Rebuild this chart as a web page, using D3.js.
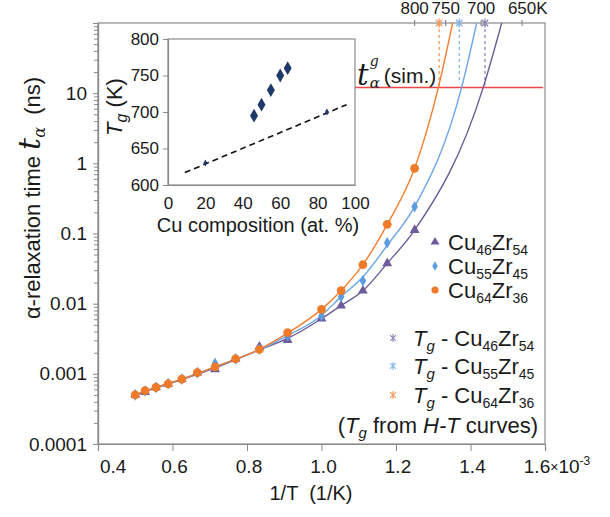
<!DOCTYPE html>
<html><head><meta charset="utf-8">
<script src="https://cdn.jsdelivr.net/npm/d3@7"></script>
<style>
body{margin:0;background:#fff;}
svg{display:block;font-family:"Liberation Sans",Arial,sans-serif;}
</style></head><body>
<svg id="chart" width="610" height="517"></svg>
<script>
// ---------------- data ----------------
const temperatures = [2000,1900,1800,1700,1600,1500,1400,1300,1200,1100,1000,950,900,850,800];
const tauCu46Zr54 = [0.0005,0.00055,0.00064,0.00072,0.00084,0.00104,0.00116,0.00163,0.00244,0.00303,0.0061,0.00935,0.0153,0.0376,0.112];
const tauCu55Zr45 = [0.0005,0.00057,0.00064,0.00072,0.00084,0.00104,0.00141,0.00163,0.00226,0.00346,0.00667,0.01256,0.0212,0.074,0.241];
const tauCu64Zr36 = [0.0005,0.000575,0.00064,0.00072,0.00084,0.00104,0.00126,0.00163,0.00222,0.00386,0.0083,0.0153,0.0359,0.135,0.85];
// fit curves: [1/T (1e-3 1/K), tau (ns)]
const fitCu46Zr54 = [[0.5,0.0005],[0.5556,0.00063],[0.625,0.00083],[0.7143,0.00122],[0.8333,0.0022],[0.9091,0.0032],[1.0,0.0061],[1.0526,0.0094],[1.1111,0.0153],[1.1765,0.0376],[1.25,0.112],[1.434,12],[1.4838,100]];
const fitCu55Zr45 = [[0.5,0.0005],[0.5556,0.00064],[0.625,0.00084],[0.7143,0.00126],[0.8333,0.0022],[0.9091,0.0035],[1.0,0.0068],[1.0526,0.0126],[1.1111,0.024],[1.1765,0.068],[1.25,0.241],[1.376,12],[1.4166,100]];
const fitCu64Zr36 = [[0.5,0.0005],[0.5556,0.00064],[0.625,0.00084],[0.7143,0.00126],[0.8333,0.00224],[0.9091,0.0038],[1.0,0.0083],[1.0526,0.0153],[1.1111,0.036],[1.1765,0.135],[1.25,0.85],[1.3136,12],[1.352,100]];
const tgHT = [695,730,760];           // Tg from H-T curves (K), Cu46, Cu55, Cu64
const tgDropTau = [13,15,12];         // where the dotted Tg guides end (ns)
const tauSim = 12;                    // t_alpha^g (sim.) level (ns)
const simLineInvT = [1.0855,1.595];
const topTempTicks = [800,750,700,650];
const topTempLabels = ["800","750","700","650"];
const yTickValues = [1e-4,1e-3,1e-2,1e-1,1,10];
const yTickLabels = ["0.0001","0.001","0.01","0.1","1","10"];
const xTickValues = [0.4,0.6,0.8,1.0,1.2,1.4,1.6];
const xTickLabels = ["0.4","0.6","0.8","1.0","1.2","1.4","1.6"];
// inset
const insetComposition = [46,50,55,60,64];
const insetTg = [695,710,730,750,760];
const insetOtherComposition = [20,85];
const insetOtherTg = [630,700];
const insetTrendComposition = [9,95.5];
const insetTrendTg = [617,710];
const insetXTicks = [0,20,40,60,80,100];
const insetYTicks = [600,650,700,750,800];

// ---------------- setup ----------------
const svg = d3.select("#chart");
const L = 98, R = 545, T = 23, B = 444;
const x = d3.scaleLinear().domain([0.4,1.6]).range([L,R]);
const y = d3.scaleLog().domain([1e-4,100]).range([B,T]);
const axisCol = "#8a8a8a";
const txt = "#1a1a1a";
const colors = {p:"#6e5b9c", b:"#5b9be0", o:"#ee7a2a"};
const lineCols = {p:"#6b5b98", b:"#6aa6ea", o:"#f07f2f"};
const tgCols = ["#9084b6","#86b5ec","#f29a5c"];

svg.append("rect").attr("width",610).attr("height",517).attr("fill","#fff");

svg.append("defs").append("clipPath").attr("id","plotclip")
  .append("rect").attr("x",L).attr("y",T).attr("width",R-L).attr("height",B-T);

// frame
svg.append("rect").attr("x",L).attr("y",T).attr("width",R-L).attr("height",B-T)
  .attr("fill","none").attr("stroke",axisCol).attr("stroke-width",1.2);

// left axis
const minorVals = [];
for (let e=-4; e<2; e++) for (let m=2; m<10; m++) minorVals.push(m*Math.pow(10,e));
const gMinor = svg.append("g").attr("transform",`translate(${L},0)`)
  .call(d3.axisLeft(y).tickValues(minorVals).tickSize(4).tickFormat(""));
const gLeft = svg.append("g").attr("transform",`translate(${L},0)`)
  .call(d3.axisLeft(y).tickValues(yTickValues.concat([100])).tickSize(5).tickPadding(6)
    .tickFormat((d,i)=> i<yTickLabels.length ? yTickLabels[i] : ""));
[gMinor,gLeft].forEach(g=>{
  g.select(".domain").attr("stroke",axisCol).attr("stroke-width",1.2);
  g.selectAll(".tick line").attr("stroke",axisCol);
  g.selectAll("text").attr("font-size",19).attr("fill",txt).attr("font-family","Liberation Sans, Arial, sans-serif");
});

// bottom axis
const gBot = svg.append("g").attr("transform",`translate(0,${B})`)
  .call(d3.axisBottom(x).tickValues(xTickValues).tickSize(7).tickFormat(""));
gBot.select(".domain").attr("stroke",axisCol).attr("stroke-width",1.2);
gBot.selectAll(".tick line").attr("stroke",axisCol);
xTickValues.forEach((v,i)=>{
  const t = svg.append("text").attr("y",B+29).attr("font-size",19).attr("fill",txt);
  if (i === 0) {
    t.attr("x",x(v)+2).attr("text-anchor","start").text(xTickLabels[i]);
  } else if (i < xTickValues.length-1) {
    t.attr("x",x(v)+2).attr("text-anchor","middle").text(xTickLabels[i]);
  } else {
    t.append("tspan").text(xTickLabels[i]);
    const w = t.node().getComputedTextLength();
    t.attr("x",x(v)-w/2-8);
    t.append("tspan").attr("font-size",14).attr("dy",-1).text("×");
    t.append("tspan").attr("font-size",19).attr("dy",1).text("10");
    t.append("tspan").attr("font-size",12).attr("dy",-8).text("-3");
  }
});

// top temperature axis
topTempTicks.forEach((tk,i)=>{
  const xx = x(1000/tk);
  svg.append("line").attr("x1",xx).attr("x2",xx).attr("y1",T-3).attr("y2",T+3)
    .attr("stroke",axisCol).attr("stroke-width",1.2);
  const t = svg.append("text").attr("x",xx).attr("y",T-9).attr("text-anchor","middle")
    .attr("font-size",17).attr("fill",txt).text(topTempLabels[i]);
  if (i === topTempTicks.length-1) {
    const w = t.node().getComputedTextLength();
    svg.append("text").attr("x",xx+w/2).attr("y",T-9).attr("font-size",17).attr("fill",txt).text("K");
  }
});

// axis titles
const yl = svg.append("text").attr("transform","translate(40,198) rotate(-90)")
  .attr("text-anchor","middle").attr("font-size",22).attr("fill",txt);
yl.append("tspan").text("α-relaxation time ");
yl.append("tspan").attr("font-family","DejaVu Serif").attr("font-style","italic").attr("font-size",30).text("t");
yl.append("tspan").attr("font-family","DejaVu Serif").attr("font-style","italic").attr("font-size",16).attr("dy",5).text("α");
yl.append("tspan").attr("dy",-5).attr("xml:space","preserve").text("  (ns)");

svg.append("text").attr("x",311).attr("y",500).attr("text-anchor","middle")
  .attr("font-size",20).attr("fill",txt).attr("xml:space","preserve").text("1/T  (1/K)");

// plot content
const plot = svg.append("g").attr("clip-path","url(#plotclip)");

plot.append("line").attr("x1",x(simLineInvT[0])).attr("x2",x(simLineInvT[1]))
  .attr("y1",y(tauSim)).attr("y2",y(tauSim)).attr("stroke","#f2454a").attr("stroke-width",1.5);

tgHT.forEach((tg,i)=>{
  plot.append("line").attr("x1",x(1000/tg)).attr("x2",x(1000/tg))
    .attr("y1",y(100)).attr("y2",y(tgDropTau[i]))
    .attr("stroke",tgCols[i]).attr("stroke-width",1.3).attr("stroke-dasharray","3,3");
});

const line = d3.line().x(d=>x(d[0])).y(d=>y(d[1])).curve(d3.curveMonotoneX);
[[fitCu46Zr54,"p"],[fitCu55Zr45,"b"],[fitCu64Zr36,"o"]].forEach(([f,k])=>{
  plot.append("path").datum(f).attr("d",line).attr("fill","none")
    .attr("stroke",lineCols[k]).attr("stroke-width",1.4);
});

const invT = temperatures.map(t=>1000/t);
const series = [
  {v:tauCu46Zr54, k:"p", sym:d3.symbolTriangle, size:42},
  {v:tauCu55Zr45, k:"b", sym:d3.symbolDiamond, size:38},
  {v:tauCu64Zr36, k:"o", sym:d3.symbolCircle, size:60},
];
series.forEach(s=>{
  plot.append("g").selectAll("path").data(s.v).join("path")
    .attr("transform",(d,i)=>`translate(${x(invT[i])},${y(d)})`)
    .attr("d",d3.symbol().type(s.sym).size(s.size)).attr("fill",colors[s.k]);
});

const asterisk = {draw(ctx,size){const r=Math.sqrt(size)/2; const d=r*0.72;
  ctx.moveTo(0,-r);ctx.lineTo(0,r);ctx.moveTo(-d,-d);ctx.lineTo(d,d);ctx.moveTo(-d,d);ctx.lineTo(d,-d);}};

tgHT.forEach((tg,i)=>{
  svg.append("path").attr("transform",`translate(${x(1000/tg)},${T})`)
    .attr("d",d3.symbol().type(asterisk).size(80)).attr("fill","none")
    .attr("stroke",tgCols[i]).attr("stroke-width",1.3);
});

// t_alpha^g (sim.) label as one text element
{
  const t = svg.append("text").attr("x",357).attr("y",85).attr("font-family","DejaVu Serif")
    .attr("font-style","italic").attr("fill",txt);
  t.append("tspan").attr("font-size",29).text("t");
  t.append("tspan").attr("font-size",14).attr("dx",1).attr("dy",-19).text("g");
  t.append("tspan").attr("font-size",15).attr("dx",-9).attr("dy",22).text("α");
  t.append("tspan").attr("font-family","Liberation Sans, Arial, sans-serif").attr("font-style","normal")
    .attr("font-size",21).attr("dx",4).attr("dy",-5).text("(sim.)");
}

// legend
function compound(t, a, an, b, bn){
  t.append("tspan").text(a);
  t.append("tspan").attr("font-size",14).attr("dy",5).text(an);
  t.append("tspan").attr("dy",-5).text(b);
  t.append("tspan").attr("font-size",14).attr("dy",5).text(bn);
}
const legendSeries = [
  {k:"p", sym:d3.symbolTriangle, size:34, cy:242, f:["Cu","46","Zr","54"]},
  {k:"b", sym:d3.symbolDiamond, size:26, cy:266, f:["Cu","55","Zr","45"]},
  {k:"o", sym:d3.symbolCircle, size:40, cy:290, f:["Cu","64","Zr","36"]},
];
legendSeries.forEach(s=>{
  svg.append("path").attr("transform",`translate(435,${s.cy})`)
    .attr("d",d3.symbol().type(s.sym).size(s.size)).attr("fill",colors[s.k]);
  const t = svg.append("text").attr("x",448).attr("y",s.cy+8).attr("font-size",22).attr("fill",txt);
  compound(t, ...s.f);
});
const legendTg = [
  {cy:338, f:["Cu","46","Zr","54"]},
  {cy:366, f:["Cu","55","Zr","45"]},
  {cy:395, f:["Cu","64","Zr","36"]},
];
legendTg.forEach((s,i)=>{
  svg.append("path").attr("transform",`translate(393,${s.cy})`)
    .attr("d",d3.symbol().type(asterisk).size(64)).attr("fill","none")
    .attr("stroke",tgCols[i]).attr("stroke-width",1.1);
  const t = svg.append("text").attr("x",413).attr("y",s.cy+8).attr("font-size",22).attr("fill",txt);
  t.append("tspan").attr("font-style","italic").text("T");
  t.append("tspan").attr("font-style","italic").attr("font-size",15).attr("dy",5).text("g");
  t.append("tspan").attr("dy",-5).text(" - ");
  compound(t, ...s.f);
});
{
  const t = svg.append("text").attr("x",538).attr("y",433).attr("text-anchor","end")
    .attr("font-size",22).attr("fill",txt);
  t.append("tspan").text("(");
  t.append("tspan").attr("font-style","italic").text("T");
  t.append("tspan").attr("font-style","italic").attr("font-size",15).attr("dy",5).text("g");
  t.append("tspan").attr("dy",-5).text(" from ");
  t.append("tspan").attr("font-style","italic").text("H-T");
  t.append("tspan").text(" curves)");
}

// ---------------- inset ----------------
const iL = 168, iR = 355, iT = 39, iB = 185;
const xi = d3.scaleLinear().domain([0,100]).range([iL,iR]);
const yi = d3.scaleLinear().domain([600,800]).range([iB,iT]);
svg.append("rect").attr("x",iL).attr("y",iT).attr("width",iR-iL).attr("height",iB-iT)
  .attr("fill","#fff").attr("stroke",axisCol).attr("stroke-width",1.2);
const giL = svg.append("g").attr("transform",`translate(${iL},0)`)
  .call(d3.axisLeft(yi).tickValues(insetYTicks).tickSize(5).tickPadding(4));
const giB = svg.append("g").attr("transform",`translate(0,${iB})`)
  .call(d3.axisBottom(xi).tickValues(insetXTicks).tickSize(0).tickPadding(12));
[giL,giB].forEach(g=>{
  g.select(".domain").attr("stroke",axisCol).attr("stroke-width",1.2);
  g.selectAll(".tick line").attr("stroke",axisCol);
  g.selectAll("text").attr("font-size",17).attr("fill",txt).attr("font-family","Liberation Sans, Arial, sans-serif");
});
svg.append("line").attr("x1",xi(insetTrendComposition[0])).attr("y1",yi(insetTrendTg[0]))
  .attr("x2",xi(insetTrendComposition[1])).attr("y2",yi(insetTrendTg[1]))
  .attr("stroke","#111").attr("stroke-width",1.6).attr("stroke-dasharray","6,4");
svg.append("g").selectAll("path").data(insetOtherComposition).join("path")
  .attr("transform",(d,i)=>`translate(${xi(d)},${yi(insetOtherTg[i])})`)
  .attr("d",d3.symbol().type(d3.symbolDiamond).size(14)).attr("fill","#1f3a68");
svg.append("g").selectAll("path").data(insetComposition).join("path")
  .attr("transform",(d,i)=>`translate(${xi(d)},${yi(insetTg[i])})`)
  .attr("d",d3.symbol().type(d3.symbolDiamond).size(55)).attr("fill","#1f3a68");
svg.append("text").attr("x",258).attr("y",232).attr("text-anchor","middle")
  .attr("font-size",20).attr("fill",txt).text("Cu composition (at. %)");
{
  const t = svg.append("text").attr("transform","translate(122,107) rotate(-90)")
    .attr("text-anchor","middle").attr("font-size",22).attr("fill",txt);
  t.append("tspan").attr("font-style","italic").text("T");
  t.append("tspan").attr("font-style","italic").attr("font-size",16).attr("dy",5).text("g");
  t.append("tspan").attr("dy",-5).text(" (K)");
}
</script>
</body></html>
